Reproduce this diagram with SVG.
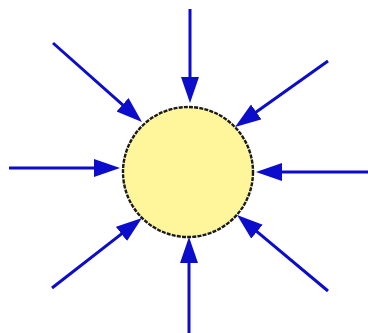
<svg xmlns="http://www.w3.org/2000/svg" width="368" height="333" viewBox="0 0 368 333">
  <style>
    .arrow { stroke: #0c0ccc; stroke-width: 3; fill: none; marker-end: url(#head); }
    .node { fill: #fff59a; stroke: #1a1a1a; stroke-width: 2.4; stroke-dasharray: 4 1.2; }
  </style>
  <defs>
    <marker id="head" markerUnits="userSpaceOnUse" markerWidth="28" markerHeight="20" refX="16" refY="9" orient="auto" viewBox="0 0 28 20">
      <path d="M0,0 L26,9 L0,18 Z" fill="#0c0ccc"/>
    </marker>
  </defs>
  <rect width="368" height="333" fill="#ffffff"/>
  <g id="connectors">
    <line class="arrow" x1="190" y1="9" x2="190" y2="93"/>
    <line class="arrow" x1="9" y1="168" x2="110" y2="168"/>
    <line class="arrow" x1="368" y1="172" x2="266" y2="172"/>
    <line class="arrow" x1="189" y1="333" x2="189" y2="247"/>
    <line class="arrow" x1="53" y1="43" x2="134.5" y2="115.4"/>
    <line class="arrow" x1="328" y1="61" x2="243.2" y2="121.2"/>
    <line class="arrow" x1="52" y1="288" x2="134.1" y2="224.1"/>
    <line class="arrow" x1="328" y1="291" x2="244.7" y2="221.4"/>
  </g>
  <g id="center">
    <circle class="node" cx="188" cy="172" r="65"/>
  </g>
</svg>
